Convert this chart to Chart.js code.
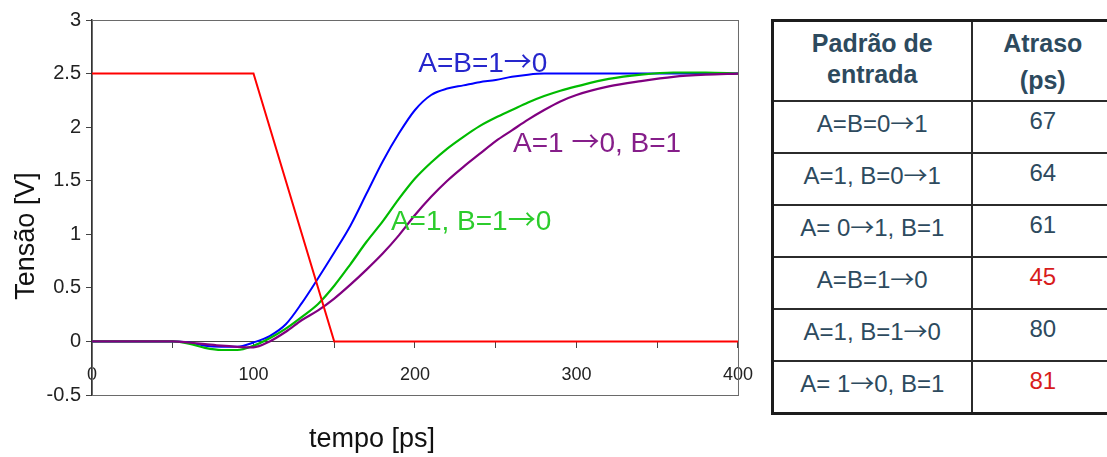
<!DOCTYPE html>
<html><head><meta charset="utf-8">
<script src="https://cdn.jsdelivr.net/npm/chart.js@4.4.1/dist/chart.umd.min.js"></script>
<style>
html,body{margin:0;padding:0;background:#fff;overflow:hidden;width:1107px;height:457px;}
#wrap{position:absolute;left:0;top:0;width:770px;height:457px;}
#tbl{position:absolute;left:771px;top:19px;width:400px;}
table{border-collapse:collapse;table-layout:fixed;width:342px;font-family:'Liberation Sans',Arial,sans-serif;color:#2d4a5e;border:3px solid #1c1c1c;}
td,th{border:2px solid #2b2b2b;text-align:center;padding:0;}
th{font-weight:bold;font-size:25px;vertical-align:top;}
th.c1{line-height:31px;padding-top:6px;height:72px;}
th.c2{line-height:37px;padding-top:3px;height:75px;}
td{font-size:24px;vertical-align:middle;height:38px;padding-bottom:12px;}
td.hi{color:#d81c1c;}
.ar{font-family:'Noto Sans CJK SC','DejaVu Sans',sans-serif;font-size:1em;font-weight:normal;}
</style></head>
<body>
<div id="wrap"><canvas id="c" width="770" height="457"></canvas></div>
<div id="tbl"></div>
<script>
// ---- data ----
const timeGrid = [0,25,50,60,70,80,90,100,110,120,130,140,150,160,170,180,190,200,210,220,230,240,250,260,270,280,290,300,320,340,360,380,400];
const vAB10   = [0,0,0,-0.01,-0.04,-0.05,-0.05,-0.01,0.05,0.16,0.36,0.59,0.83,1.08,1.38,1.68,1.94,2.16,2.30,2.36,2.39,2.42,2.44,2.47,2.49,2.50,2.50,2.50,2.50,2.50,2.50,2.50,2.50];
const vA1B10  = [0,0,0,-0.02,-0.06,-0.08,-0.08,-0.04,0.03,0.12,0.23,0.35,0.52,0.72,0.93,1.12,1.33,1.52,1.67,1.80,1.91,2.01,2.09,2.16,2.23,2.29,2.34,2.38,2.45,2.49,2.51,2.51,2.50];
const vA10B1  = [0,0,0,-0.01,-0.025,-0.04,-0.05,-0.055,0.0,0.09,0.20,0.29,0.40,0.53,0.67,0.82,0.99,1.18,1.35,1.50,1.63,1.75,1.87,1.97,2.07,2.16,2.24,2.30,2.38,2.43,2.47,2.49,2.50];
const inputTime = [0,100,150,400];
const inputV    = [2.5,2.5,0,0];
const xLabelTicks = [0,100,200,300,400];
const curveLabels = ['A=B=1→0','A=1 →0, B=1','A=1, B=1→0'];
const axisTitles = ['tempo [ps]','Tensão [V]'];
const tableHeaders = [['Padrão de','entrada'],['Atraso','(ps)']];
const tablePatterns = ['A=B=0→1','A=1, B=0→1','A= 0→1, B=1','A=B=1→0','A=1, B=1→0','A= 1→0, B=1'];
const tableDelays = [67,64,61,45,80,81];

// ---- table ----
(function(){
  const mn = Math.min(...tableDelays), mx = Math.max(...tableDelays);
  const arr = s => s.split('→').join('<span class="ar">→</span>');
  let h = '<table><colgroup><col style="width:199px"><col style="width:143px"></colgroup>';
  h += '<tr><th class="c1">'+tableHeaders[0].join('<br>')+'</th><th class="c2">'+tableHeaders[1].join('<br>')+'</th></tr>';
  tablePatterns.forEach((p,i)=>{
    const d = tableDelays[i];
    h += '<tr><td>'+arr(p)+'</td><td class="'+((d===mn||d===mx)?'hi':'')+'">'+d+'</td></tr>';
  });
  h += '</table>';
  document.getElementById('tbl').innerHTML = h;
})();

// ---- chart ----
const pts = (xs, ys) => xs.map((x,i)=>({x:x, y:ys[i]}));
const labelCfg = [
  {text: curveLabels[0], x: 202, y: 2.514, color: '#2626cc'},
  {text: curveLabels[1], x: 260.7, y: 1.768, color: '#861e8a'},
  {text: curveLabels[2], x: 185.1, y: 1.036, color: '#2ccc2c'}
];
function drawWithArrows(ctx, text, x, y, size){
  const baseFont = size+'px "Liberation Sans", Arial, sans-serif';
  const arrowFont = size+'px "Noto Sans CJK SC", "DejaVu Sans", sans-serif';
  const parts = text.split('→');
  let cx = x;
  parts.forEach((p, i) => {
    ctx.font = baseFont; ctx.fillText(p, cx, y); cx += ctx.measureText(p).width;
    if (i < parts.length - 1) { ctx.font = arrowFont; ctx.fillText('→', cx, y); cx += ctx.measureText('→').width; }
  });
}
const annot = {
  id: 'annot',
  beforeDatasetsDraw(chart){
    const {ctx, chartArea:a} = chart;
    ctx.save();
    ctx.strokeStyle = '#6a6a6a'; ctx.lineWidth = 1;
    ctx.strokeRect(a.left+0.5, a.top+0.5, a.right-a.left, a.bottom-a.top);
    ctx.restore();
  },
  afterDraw(chart){
    const {ctx} = chart;
    const xs = chart.scales.x, ys = chart.scales.y;
    ctx.save();
    ctx.textAlign = 'left'; ctx.textBaseline = 'alphabetic';
    labelCfg.forEach(l => { ctx.fillStyle = l.color; drawWithArrows(ctx, l.text, xs.getPixelForValue(l.x), ys.getPixelForValue(l.y), 28); });
    ctx.fillStyle = '#111';
    ctx.font = '27px "Liberation Sans", Arial, sans-serif';
    ctx.textAlign = 'center';
    ctx.fillText(axisTitles[0], 372, 447);
    ctx.translate(34, 236); ctx.rotate(-Math.PI/2);
    ctx.fillText(axisTitles[1], 0, 0);
    ctx.restore();
  }
};

new Chart(document.getElementById('c'), {
  type: 'line',
  data: { datasets: [
    {label:'entrada', data: pts(inputTime, inputV), borderColor:'#ff0000', borderWidth:2, pointRadius:0, tension:0},
    {label: curveLabels[1], data: pts(timeGrid, vA10B1), borderColor:'#800080', borderWidth:2.2, pointRadius:0, cubicInterpolationMode:'monotone'},
    {label: curveLabels[2], data: pts(timeGrid, vA1B10), borderColor:'#00bb00', borderWidth:2.2, pointRadius:0, cubicInterpolationMode:'monotone'},
    {label: curveLabels[0], data: pts(timeGrid, vAB10), borderColor:'#0000ff', borderWidth:2, pointRadius:0, cubicInterpolationMode:'monotone'}
  ]},
  options: {
    responsive:false, animation:false, devicePixelRatio:1,
    layout:{padding:{left:0, top:20, right:32, bottom:62}},
    plugins:{legend:{display:false}, tooltip:{enabled:false}},
    scales:{
      x:{type:'linear', min:0, max:400, position:{y:0},
        grid:{drawOnChartArea:false, drawTicks:true, tickLength:6, color:'#444'},
        border:{display:true, color:'#444', width:1},
        ticks:{stepSize:50, autoSkip:false, maxRotation:0, padding:17, color:'#222',
          font:{family:"'Liberation Sans Narrow','Arial Narrow','Liberation Sans',sans-serif", size:18},
          callback:(v)=> xLabelTicks.includes(v) ? String(v) : ''}},
      y:{type:'linear', min:-0.5, max:3,
        afterFit:(s)=>{ s.width = 92; },
        grid:{drawOnChartArea:false, drawTicks:true, tickLength:6, color:'#444'},
        border:{display:true, color:'#333', width:1.5},
        ticks:{stepSize:0.5, padding:5, color:'#222',
          font:{family:"'Liberation Sans',Arial,sans-serif", size:20},
          callback:(v)=> String(Math.round(v*10)/10)}}
    }
  },
  plugins:[annot]
});
</script>
</body></html>
